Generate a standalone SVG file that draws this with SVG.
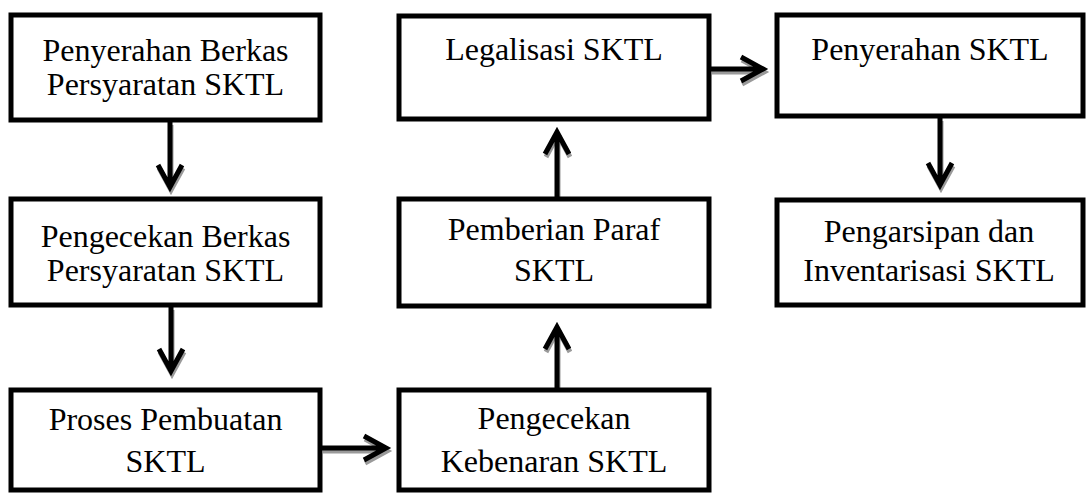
<svg xmlns="http://www.w3.org/2000/svg" width="1086" height="494" viewBox="0 0 1086 494">
<style>
.box{fill:#fff;stroke:#000;stroke-width:5}
.t{font-family:"Liberation Serif","Times New Roman",serif;font-size:32px;fill:#000;text-anchor:middle}
.arr{fill:none;stroke:#000;stroke-width:5;stroke-linejoin:miter;stroke-linecap:butt}
.sh{fill:none;stroke:#9a9a9a;stroke-width:5;stroke-linejoin:miter;stroke-linecap:butt}
</style>
<rect width="1086" height="494" fill="#fff"/>
<g id="connectors">
  <g transform="translate(1,3)">
    <path class="sh" d="M170 122V187M158 165L170 187L182 165"/>
    <path class="sh" d="M171 307V371M159 349L171 371L183 349"/>
    <path class="sh" d="M322 448H386M364 436L386 448L364 460"/>
    <path class="sh" d="M557 388V327M545 349L557 327L569 349"/>
    <path class="sh" d="M557 197V132M545 154L557 132L569 154"/>
    <path class="sh" d="M711 69H763M741 57L763 69L741 81"/>
    <path class="sh" d="M940 118V185M928 163L940 185L952 163"/>
  </g>
  <path class="arr" d="M170 122V187M158 165L170 187L182 165"/>
  <path class="arr" d="M171 307V371M159 349L171 371L183 349"/>
  <path class="arr" d="M322 448H386M364 436L386 448L364 460"/>
  <path class="arr" d="M557 388V327M545 349L557 327L569 349"/>
  <path class="arr" d="M557 197V132M545 154L557 132L569 154"/>
  <path class="arr" d="M711 69H763M741 57L763 69L741 81"/>
  <path class="arr" d="M940 118V185M928 163L940 185L952 163"/>
</g>
<g id="n1">
  <rect class="box" x="11" y="15" width="309" height="105"/>
  <text class="t" x="165.5" y="61">Penyerahan Berkas</text>
  <text class="t" x="165.5" y="95">Persyaratan SKTL</text>
</g>
<g id="n2">
  <rect class="box" x="11" y="199" width="309" height="106"/>
  <text class="t" x="165.5" y="247">Pengecekan Berkas</text>
  <text class="t" x="165.5" y="281">Persyaratan SKTL</text>
</g>
<g id="n3">
  <rect class="box" x="11" y="390" width="309" height="100"/>
  <text class="t" x="165.5" y="430">Proses Pembuatan</text>
  <text class="t" x="165.5" y="472">SKTL</text>
</g>
<g id="n4">
  <rect class="box" x="399" y="16" width="310" height="103"/>
  <text class="t" x="554" y="60">Legalisasi SKTL</text>
</g>
<g id="n5">
  <rect class="box" x="399" y="199" width="310" height="107"/>
  <text class="t" x="554" y="240">Pemberian Paraf</text>
  <text class="t" x="554" y="281">SKTL</text>
</g>
<g id="n6">
  <rect class="box" x="399" y="390" width="310" height="100"/>
  <text class="t" x="554" y="429">Pengecekan</text>
  <text class="t" x="554" y="472">Kebenaran SKTL</text>
</g>
<g id="n7">
  <rect class="box" x="777" y="15" width="306" height="101"/>
  <text class="t" x="930" y="60">Penyerahan SKTL</text>
</g>
<g id="n8">
  <rect class="box" x="777" y="200" width="306" height="105"/>
  <text class="t" x="929" y="242">Pengarsipan dan</text>
  <text class="t" x="929" y="281">Inventarisasi SKTL</text>
</g>
</svg>
